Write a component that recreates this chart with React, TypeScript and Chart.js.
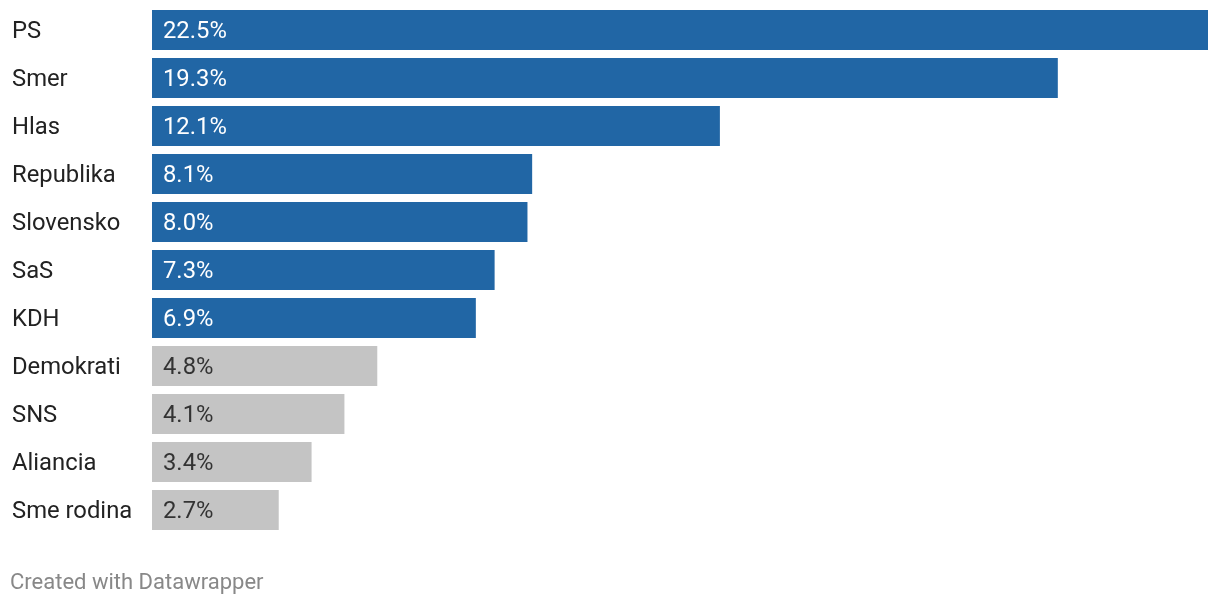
import React, { useEffect, useRef } from "react";
import { Chart, registerables } from "chart.js";

Chart.register(...registerables);

const parties = ["PS", "Smer", "Hlas", "Republika", "Slovensko", "SaS", "KDH", "Demokrati", "SNS", "Aliancia", "Sme rodina"];
const values = [22.5, 19.3, 12.1, 8.1, 8.0, 7.3, 6.9, 4.8, 4.1, 3.4, 2.7];
const aboveThreshold = [true, true, true, true, true, true, true, false, false, false, false];

const BLUE = "#2166a5";
const GRAY = "#c4c4c4";
const FONT = "Roboto, 'Noto Sans', sans-serif";

export default function App() {
  const ref = useRef<HTMLCanvasElement | null>(null);
  useEffect(() => {
    if (!ref.current) return;
    const labelPlugin = {
      id: "labels",
      afterDatasetsDraw(chart: any) {
        const ctx = chart.ctx;
        const meta = chart.getDatasetMeta(0);
        ctx.save();
        ctx.textBaseline = "middle";
        ctx.textAlign = "left";
        meta.data.forEach((bar: any, i: number) => {
          ctx.font = `23.8px ${FONT}`;
          ctx.fillStyle = "#222";
          ctx.fillText(parties[i], 12, bar.y + 2);
          ctx.fillStyle = aboveThreshold[i] ? "#ffffff" : "#333333";
          ctx.fillText(values[i].toFixed(1) + "%", bar.base + 11, bar.y + 2);
        });
        ctx.font = `22px ${FONT}`;
        ctx.fillStyle = "#888";
        ctx.fillText("Created with Datawrapper", 10, 583);
        ctx.restore();
      },
    };
    const chart = new Chart(ref.current, {
      type: "bar",
      data: {
        labels: parties,
        datasets: [
          {
            data: values,
            backgroundColor: aboveThreshold.map((a) => (a ? BLUE : GRAY)),
            borderWidth: 0,
            categoryPercentage: 1,
            barPercentage: 40 / 48,
          },
        ],
      },
      options: {
        indexAxis: "y",
        responsive: false,
        animation: false,
        layout: { padding: { left: 152, right: 12, top: 6, bottom: 72 } },
        plugins: { legend: { display: false }, tooltip: { enabled: false } },
        scales: {
          x: { display: false, min: 0, max: 22.5 },
          y: { display: false },
        },
      },
      plugins: [labelPlugin],
    });
    return () => chart.destroy();
  }, []);
  return (
    <canvas
      ref={ref}
      width={1220}
      height={606}
      style={{ position: "absolute", left: 0, top: 0, width: 1220, height: 606, background: "#fff" }}
    />
  );
}
